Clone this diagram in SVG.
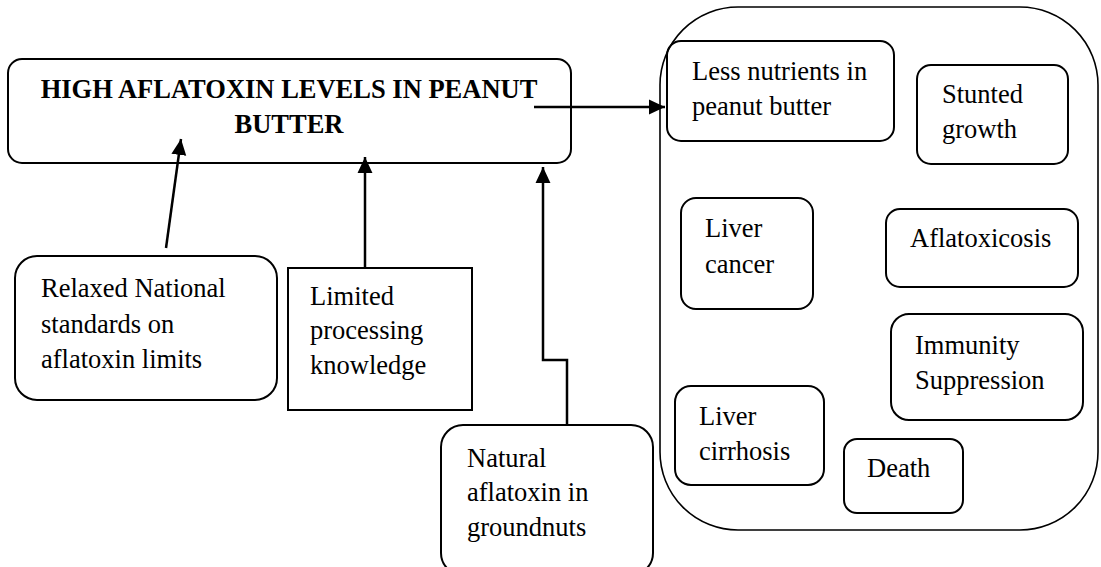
<svg xmlns="http://www.w3.org/2000/svg" width="1101" height="567" viewBox="0 0 1101 567">
<defs>
<style>
.box{fill:none;stroke:#000;stroke-width:2}
.cont{fill:none;stroke:#000;stroke-width:1.6}
.t{font-family:"Liberation Serif","Times New Roman",serif;font-size:26.5px;fill:#000}
.tb{font-family:"Liberation Serif","Times New Roman",serif;font-size:26.5px;font-weight:bold;fill:#000}
.c{fill:none;stroke:#000;stroke-width:2.5}
</style>
<marker id="ah" markerUnits="userSpaceOnUse" markerWidth="16" markerHeight="16" viewBox="0 0 15 14" refX="15" refY="7" orient="auto">
<path d="M0,0 L15,7 L0,14 Z" fill="#000"/>
</marker>
</defs>
<rect width="1101" height="567" fill="#fff"/>
<g id="main">
<rect class="box" x="8" y="59" width="563" height="104" rx="14"/>
<text class="tb" x="289" y="98" text-anchor="middle">HIGH AFLATOXIN LEVELS IN PEANUT</text>
<text class="tb" x="289" y="133" text-anchor="middle">BUTTER</text>
</g>
<g id="relaxed">
<rect class="box" x="15" y="256" width="262" height="144" rx="22"/>
<text class="t" x="41" y="297">Relaxed National</text>
<text class="t" x="41" y="333">standards on</text>
<text class="t" x="41" y="368">aflatoxin limits</text>
</g>
<g id="limited">
<rect class="box" x="288" y="268" width="184" height="142"/>
<text class="t" x="310" y="305">Limited</text>
<text class="t" x="310" y="339">processing</text>
<text class="t" x="310" y="374">knowledge</text>
</g>
<g id="natural">
<rect class="box" x="441" y="425" width="212" height="150" rx="22"/>
<text class="t" x="467" y="467">Natural</text>
<text class="t" x="467" y="501">aflatoxin in</text>
<text class="t" x="467" y="536">groundnuts</text>
</g>
<g id="effects">
<rect class="cont" x="660" y="7" width="438" height="523" rx="78"/>
</g>
<g id="nutrients">
<rect class="box" x="667" y="41" width="227" height="100" rx="14"/>
<text class="t" x="692" y="80">Less nutrients in</text>
<text class="t" x="692" y="115">peanut butter</text>
</g>
<g id="stunted">
<rect class="box" x="917" y="65" width="151" height="99" rx="14"/>
<text class="t" x="942" y="103">Stunted</text>
<text class="t" x="942" y="138">growth</text>
</g>
<g id="cancer">
<rect class="box" x="681" y="198" width="132" height="111" rx="15"/>
<text class="t" x="705" y="237">Liver</text>
<text class="t" x="705" y="273">cancer</text>
</g>
<g id="aflatoxicosis">
<rect class="box" x="886" y="209" width="192" height="78" rx="14"/>
<text class="t" x="910" y="247">Aflatoxicosis</text>
</g>
<g id="immunity">
<rect class="box" x="891" y="314" width="192" height="106" rx="18"/>
<text class="t" x="915" y="354">Immunity</text>
<text class="t" x="915" y="389">Suppression</text>
</g>
<g id="cirrhosis">
<rect class="box" x="675" y="386" width="149" height="99" rx="16"/>
<text class="t" x="699" y="425">Liver</text>
<text class="t" x="699" y="460">cirrhosis</text>
</g>
<g id="death">
<rect class="box" x="844" y="439" width="119" height="74" rx="13"/>
<text class="t" x="867" y="477">Death</text>
</g>
<g id="connectors">
<path class="c" d="M534,107 L665,107" marker-end="url(#ah)"/>
<path class="c" d="M166,248 L181,139" marker-end="url(#ah)"/>
<path class="c" d="M365,268 L365,157" marker-end="url(#ah)"/>
<path class="c" d="M567,425 L567,360 L543,360 L543,167" marker-end="url(#ah)"/>
</g>
</svg>
